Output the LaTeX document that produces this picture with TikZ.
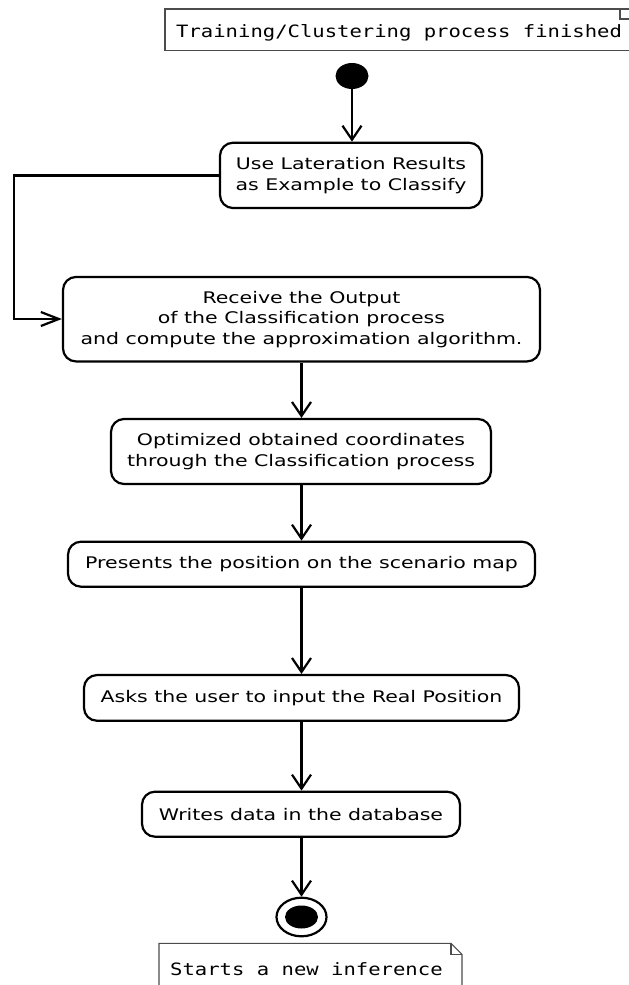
\documentclass[tikz,border=0pt]{standalone}
\usepackage{fontspec}
\setmainfont{DejaVu Sans}[FakeStretch=1.28]
\newfontfamily\notefont{DejaVu Sans Mono}[FakeStretch=1.21]
\usetikzlibrary{arrows.meta,shapes.geometric}
\begin{document}
\begin{tikzpicture}[x=1pt,y=-1pt,
  action/.style={draw=black,line width=2.2pt,rounded corners=13pt,inner sep=0pt,
    align=center,font=\fontsize{16}{20.5}\selectfont},
  flow/.style={draw=black,line width=2.2pt,-{Straight Barb[length=14pt,width=19pt,line width=2.2pt]}},
  sideflow/.style={draw=black,line width=2.2pt,-{Straight Barb[length=18pt,width=14pt,line width=2.2pt]}},
  notebox/.style={draw=black!70,line width=1.1pt},
  notetext/.style={anchor=base west,inner sep=0pt,font=\notefont\fontsize{17}{20}\selectfont}]
\useasboundingbox (0,0) rectangle (629,985);

% opening note
\draw[notebox] (632,9) -- (165,9) -- (165,50.7) -- (632,50.7);
\draw[notebox] (620,9) -- (620,19) -- (632,19);
\node[notetext] (noteA) at (176,37.3) {Training/Clustering process finished};

% initial node
\node[ellipse,fill=black,inner sep=0pt,minimum width=33pt,minimum height=26pt] (start) at (352,76) {};

% actions
\node[action,minimum width=262pt,minimum height=65.3pt] (b1) at (351,175.4)
  {Use Lateration Results\\as Example to Classify};
\node[action,minimum width=477pt,minimum height=84.5pt] (b2) at (301.5,319.2)
  {Receive the Output\\of the Classification process\\and compute the approximation algorithm.};
\node[action,minimum width=380pt,minimum height=65pt] (b3) at (301,451.5)
  {Optimized obtained coordinates\\through the Classification process};
\node[action,minimum width=467pt,minimum height=45pt] (b4) at (301.5,564.2)
  {Presents the position on the scenario map};
\node[action,minimum width=435pt,minimum height=45.7pt] (b5) at (301.5,697.9)
  {Asks the user to input the Real Position};
\node[action,minimum width=318pt,minimum height=45pt] (b6) at (301,814.2)
  {Writes data in the database};

% final node
\node[ellipse,draw=black,line width=2.2pt,inner sep=0pt,minimum width=50pt,minimum height=38.6pt] (final) at (301.5,917) {};
\node[ellipse,fill=black,inner sep=0pt,minimum width=33pt,minimum height=23pt] (finalcore) at (final.center) {};

% closing note
\draw[notebox] (159,990) -- (159,943.3) -- (451,943.3) -- (462,954.3) -- (462,990);
\draw[notebox] (451,943.3) -- (451,954.3) -- (462,954.3);
\node[notetext] (noteB) at (170,975) {Starts a new inference};

% connectors
\coordinate (axis) at (301.5,0);
\coordinate (bend) at (14,0);
\draw[flow] (start) -- (start |- b1.north);
\draw[sideflow] (b1.west) -- (b1.west -| bend) -- (bend |- 0,319) -- (b2.west |- 0,319);
\draw[flow] (b2.south -| axis) -- (b3.north -| axis);
\draw[flow] (b3.south -| axis) -- (b4.north -| axis);
\draw[flow] (b4.south -| axis) -- (b5.north -| axis);
\draw[flow] (b5.south -| axis) -- (b6.north -| axis);
\draw[flow] (b6.south -| axis) -- (final.north);
\end{tikzpicture}
\end{document}
